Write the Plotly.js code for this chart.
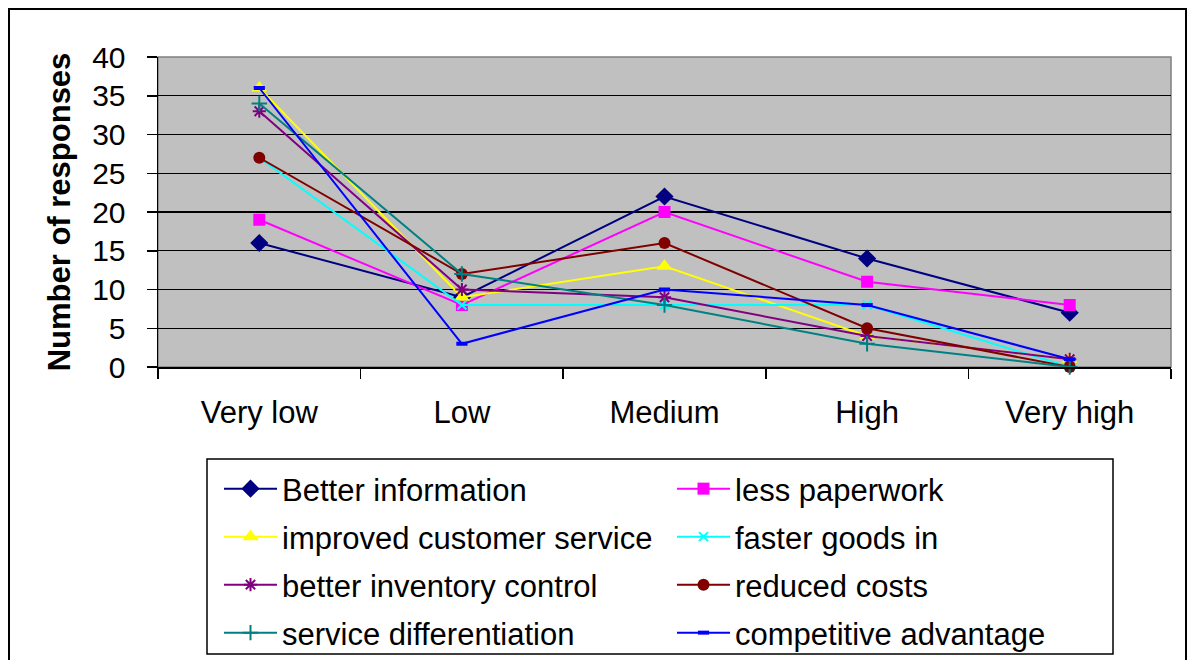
<!DOCTYPE html>
<html><head><meta charset="utf-8">
<script src="https://cdn.plot.ly/plotly-3.0.1.min.js"></script>
<style>html,body{margin:0;padding:0;background:#fff}#chart{width:1188px;height:660px}</style>
</head><body><div id="chart"></div><script>
const categories = ["Very low", "Low", "Medium", "High", "Very high"];
const betterInformation = [16, 9, 22, 14, 7];
const lessPaperwork = [19, 8, 20, 11, 8];
const improvedCustomerService = [36, 9, 13, 4, 1];
const fasterGoodsIn = [27, 8, 8, 8, 0];
const betterInventoryControl = [33, 10, 9, 4, 1];
const reducedCosts = [27, 12, 16, 5, 0];
const serviceDifferentiation = [34, 12, 8, 3, 0];
const competitiveAdvantage = [36, 3, 10, 8, 1];
const seriesNames = ["Better information", "less paperwork", "improved customer service", "faster goods in",
  "better inventory control", "reduced costs", "service differentiation", "competitive advantage"];
const seriesValues = [betterInformation, lessPaperwork, improvedCustomerService, fasterGoodsIn,
  betterInventoryControl, reducedCosts, serviceDifferentiation, competitiveAdvantage];
const yTicks = [0, 5, 10, 15, 20, 25, 30, 35, 40];
const yTitle = "Number of responses";

const styles = [
  {color: "#000080", symbol: "diamond", size: 14, lw: 0},
  {color: "#FF00FF", symbol: "square", size: 12, lw: 0},
  {color: "#FFFF00", symbol: "triangle-up", size: 14, lw: 0},
  {color: "#00FFFF", symbol: "x-thin-open", size: 9, lw: 2},
  {color: "#800080", symbol: "asterisk-open", size: 11, lw: 2},
  {color: "#800000", symbol: "circle", size: 12, lw: 0},
  {color: "#008080", symbol: "cross-thin-open", size: 11, lw: 2},
  {color: "#0000FF", symbol: "line-ew-open", size: 8, lw: 4}
];

const FONT = "Liberation Sans, Arial, sans-serif";
const W = 1188, H = 660;
const L = 158, R = 1171, T = 57, B = 367;
const PW = R - L, PH = B - T;
const px = v => (v - L) / PW;
const py = v => (B - v) / PH;

const traces = seriesNames.map((name, i) => ({
  type: "scatter", mode: "lines+markers", name: name,
  x: categories, y: seriesValues[i],
  line: {color: styles[i].color, width: 2},
  marker: {color: styles[i].color, symbol: styles[i].symbol, size: styles[i].size,
           line: {color: styles[i].color, width: styles[i].lw}},
  legend: i === 0 ? "legend" : "legend" + (i + 1),
  cliponaxis: false
}));

const rowY = [489, 537, 585, 633];
const colX = [219, 672];
const layout = {
  width: W, height: H, autosize: false,
  margin: {l: L, r: W - R, t: T, b: H - B, pad: 0, autoexpand: false},
  paper_bgcolor: "#ffffff", plot_bgcolor: "#C0C0C0",
  font: {family: FONT, size: 31, color: "#000"},
  xaxis: {
    type: "category", range: [-0.5, 4.5], autorange: false, automargin: false,
    tickson: "boundaries", ticks: "outside", ticklen: 10, tickwidth: 1.5,
    tickcolor: "#000", showline: true, linecolor: "#000", linewidth: 1.5, showgrid: false,
    zeroline: false, tickfont: {family: FONT, size: 31, color: "#000"}, ticklabelstandoff: 17
  },
  yaxis: {
    range: [0, 40], autorange: false, automargin: false, tickvals: yTicks, ticks: "outside", ticklen: 10,
    tickwidth: 1.5, tickcolor: "#000",
    showline: true, linecolor: "#000", linewidth: 1.5, showgrid: true, gridcolor: "#000", gridwidth: 1.4,
    zeroline: false, tickfont: {family: FONT, size: 30, color: "#000"}, ticklabelstandoff: 15,
    title: {text: yTitle, font: {family: FONT, size: 31, color: "#000", weight: "bold"}, standoff: 12}
  },
  showlegend: true,
  shapes: [
    {type: "rect", xref: "paper", yref: "paper", x0: 0, x1: 1, y0: 0, y1: 1, layer: "below",
     line: {color: "#808080", width: 1.5}},
    {type: "rect", xref: "paper", yref: "paper", x0: px(9), x1: px(1186), y0: py(9), y1: py(720),
     line: {color: "#000", width: 2}},
    {type: "rect", xref: "paper", yref: "paper", x0: px(207), x1: px(1113), y0: py(459), y1: py(654),
     line: {color: "#000", width: 1.5}}
  ]
};
seriesNames.forEach((n, i) => {
  const key = i === 0 ? "legend" : "legend" + (i + 1);
  layout[key] = {
    xref: "paper", yref: "paper", x: px(colX[i % 2]), y: py(rowY[Math.floor(i / 2)]),
    xanchor: "left", yanchor: "middle", bgcolor: "rgba(0,0,0,0)", borderwidth: 0,
    font: {family: FONT, size: 31, color: "#000"}, itemwidth: 53
  };
});

Plotly.newPlot("chart", traces, layout, {staticPlot: true, displayModeBar: false});
</script></body></html>
